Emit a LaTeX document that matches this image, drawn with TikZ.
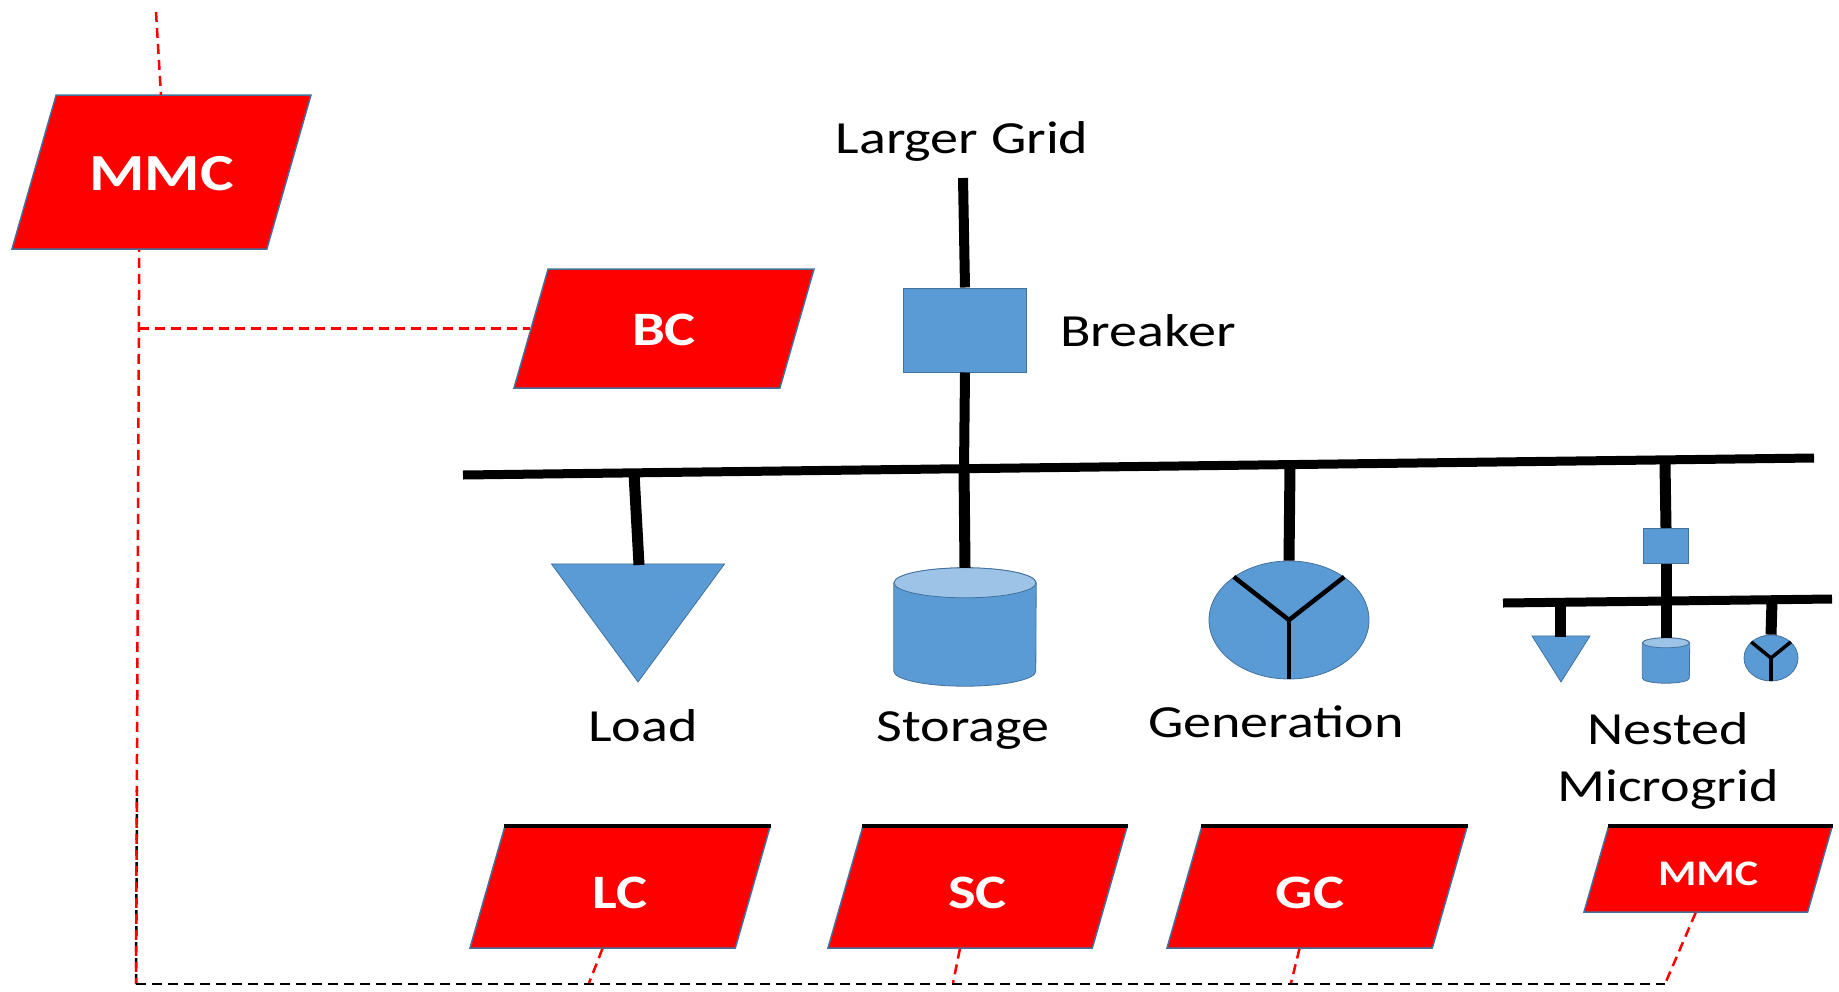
\documentclass[tikz,border=0pt]{standalone}
\usepackage{fontspec}
\setmainfont{Carlito}[FakeStretch=1.22]
\usepackage{xcolor}
\usetikzlibrary{shapes.geometric}
\definecolor{shapeblue}{HTML}{5B9BD5}
\definecolor{shapetop}{HTML}{9DC3E6}
\definecolor{shapeedge}{HTML}{41719C}

% name of a plain box, half its width, radius of its round ends
\newcommand{\drum}[3]{
    \filldraw[drumline, fill=shapeblue] ([yshift=-#3]#1.north west) -- ([yshift=#3]#1.south west)
        arc[start angle=180, end angle=360, x radius=#2, y radius=#3] -- ([yshift=-#3]#1.north east)
        arc[start angle=0, end angle=180, x radius=#2, y radius=#3] -- cycle;
    \filldraw[drumline, fill=shapetop] ([yshift=-#3]#1.north) ellipse [x radius=#2, y radius=#3];
}

\begin{document}
\begin{tikzpicture}[x=1pt,y=-1pt,
    ctrl/.style={shape=trapezium, trapezium stretches body, trapezium left angle=74, trapezium right angle=106,
        fill=red, draw=shapeedge, line width=1.5pt, inner xsep=0pt, text=white, text depth=0pt,
        font=\fontsize{48}{48}\selectfont\bfseries},
    bus/.style={line width=9pt},
    wire/.style={line width=11pt},
    ctrlline/.style={red, line width=2.5pt, dash pattern=on 10pt off 6pt},
    blackline/.style={black, line width=2.5pt, dash pattern=on 10pt off 6pt},
    topbar/.style={line width=4pt},
    brk/.style={shape=rectangle, fill=shapeblue, draw=shapeedge, line width=1pt, inner sep=0pt},
    tri/.style={shape=isosceles triangle, isosceles triangle stretches, shape border rotate=270, anchor=apex,
        fill=shapeblue, draw=shapeedge, line width=.8pt, inner sep=0pt},
    drumbox/.style={shape=rectangle, inner sep=0pt},
    drumline/.style={draw=shapeedge, line width=.8pt},
    gener/.style={shape=ellipse, fill=shapeblue, draw=shapeedge, line width=.8pt, inner sep=0pt},
    lbl/.style={font=\fontsize{46}{46}\selectfont, inner sep=0pt, text height=30pt, text depth=9pt}]
    \useasboundingbox (0,0) rectangle (1839,991);

    % controllers
    \node[ctrl, minimum width=299pt, text height=37pt, inner ysep=58.5pt, font=\fontsize{52}{52}\selectfont\bfseries] (mmc) at (161.5,172) {MMC};
    \node[ctrl, minimum width=300pt, text height=34pt, inner ysep=42.5pt] (bc) at (664,328.5) {BC};
    \node[ctrl, minimum width=300pt, text height=42pt, inner ysep=39.5pt] (lc) at (620,887.5) {LC};
    \node[ctrl, minimum width=299pt, text height=42pt, inner ysep=39.5pt] (sc) at (977.5,887.5) {SC};
    \node[ctrl, minimum width=300pt, text height=42pt, inner ysep=39.5pt] (gc) at (1317,887.5) {GC\hspace{14pt}\null};
    \node[ctrl, minimum width=248pt, text height=31pt, inner ysep=27pt, font=\fontsize{36}{36}\selectfont\bfseries] (mmcb) at (1708,869.5) {MMC};
    \foreach \ctrlname in {lc,sc,gc,mmcb}
        \draw[topbar] (\ctrlname.top left corner) -- (\ctrlname.top right corner);

    % main feeder
    \coordinate (busL) at (463,475);
    \coordinate (busR) at (1814,458);
    \coordinate (gridend) at (963,178);
    \node[brk, minimum width=123pt, minimum height=84pt] (breaker) at (965,330) {};
    \node[tri, minimum width=173pt, minimum height=118pt] (load) at (638,683) {};
    \node[drumbox, minimum width=142pt, minimum height=118pt] (storage) at (965,627) {};
    \node[gener, minimum width=160pt, minimum height=118pt] (gen) at (1289,620) {};
    \drum{storage}{71pt}{15pt}

    \draw[bus] (busL) -- (busR);
    \draw[wire, line width=10pt] (gridend) -- (breaker.north);
    \draw[wire, line width=10pt] (breaker.south) -- (964,470);
    \draw[wire] (634,473) -- (639,565);
    \draw[wire] (964,468) -- (storage.north);
    \draw[wire] (1290,466) -- (gen.north);
    \draw[line width=4.5pt] (gen.142) -- (gen.center) -- (gen.38);
    \draw[line width=4.5pt] (gen.center) -- (gen.south);

    % nested microgrid
    \coordinate (subL) at (1503,603);
    \coordinate (subR) at (1832,599);
    \node[brk, minimum width=45pt, minimum height=35pt] (subbrk) at (1666,546) {};
    \node[tri, minimum width=58pt, minimum height=46pt] (subload) at (1561,683) {};
    \node[drumbox, minimum width=47pt, minimum height=45pt] (substor) at (1666,660.5) {};
    \node[gener, minimum width=54pt, minimum height=46pt] (subgen) at (1771,658) {};
    \drum{substor}{23.5pt}{5pt}

    \draw[bus] (subL) -- (subR);
    \draw[wire] (1665,464) -- (subbrk.north);
    \draw[wire] (subbrk.south) -- (substor.north);
    \draw[wire] (1560,603) -- (1560,637);
    \draw[wire] (1772,601) -- (subgen.north);
    \draw[line width=3.5pt] (subgen.141) -- (subgen.center) -- (subgen.39);
    \draw[line width=3.5pt] (subgen.center) -- (subgen.south);

    % control links
    \coordinate (mmctop) at (156,12);
    \coordinate (mmcin) at (161,95);
    \coordinate (corner) at (136,984);
    \coordinate (branch) at (mmc.bottom side |- bc.left side);
    \draw[ctrlline] (mmctop) -- (mmcin);
    \draw[blackline] (corner) -- (137,790);
    \draw[ctrlline, dash phase=8pt] (mmc.bottom side) -- (corner);
    \draw[ctrlline] (branch) -- (bc.left side);
    \draw[blackline] (corner) -- (1665,984);
    \draw[ctrlline] (lc.bottom side) -- (589,983);
    \draw[ctrlline] (sc.bottom side) -- (953,983);
    \draw[ctrlline] (gc.bottom side) -- (1291,983);
    \draw[ctrlline] (mmcb.bottom side) -- (1665,984);

    % labels
    \node[lbl] (gridlbl) at (962,143) {Larger Grid};
    \node[lbl] (brklbl) at (1148,336) {Breaker};
    \node[lbl] (loadlbl) at (643,731) {Load};
    \node[lbl] (storlbl) at (963,731) {Storage};
    \node[lbl] (genlbl) at (1276,727) {Generation};
    \node[lbl] (nestlbl) at (1668,734) {Nested};
    \node[lbl] (microlbl) at (1668,791) {Microgrid};
\end{tikzpicture}
\end{document}
